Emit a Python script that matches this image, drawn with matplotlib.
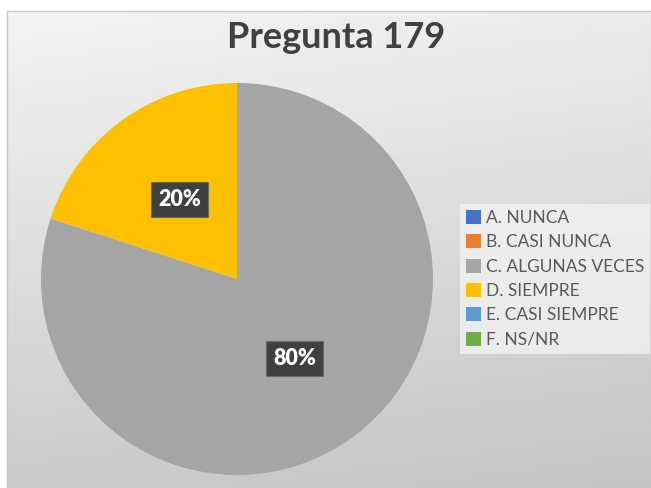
import numpy as np
import matplotlib
matplotlib.use("Agg")
import matplotlib.pyplot as plt
from matplotlib.patches import Rectangle, Patch

categories = ["A. NUNCA", "B. CASI NUNCA", "C. ALGUNAS VECES", "D. SIEMPRE",
              "E. CASI SIEMPRE", "F. NS/NR"]
values = [0, 0, 80, 20, 0, 0]
colors = ["#4472C4", "#ED7D31", "#A5A5A5", "#FFC000", "#5B9BD5", "#70AD47"]
title = "Pregunta 179"

W, H = 651, 488
fig = plt.figure(figsize=(W / 100, H / 100), dpi=100)
fig.patch.set_facecolor("white")

# background with gradient
bg = fig.add_axes([0, 0, 1, 1])
bg.set_xlim(0, W)
bg.set_ylim(H, 0)
bg.axis("off")
yy, xx = np.mgrid[0:1:256j, 0:1:256j]
t = np.clip(0.85 * yy + 0.15 * xx, 0, 1)
top = np.array([0.955, 0.955, 0.955])
bot = np.array([0.77, 0.77, 0.77])
img = top[None, None, :] * (1 - t[..., None]) + bot[None, None, :] * t[..., None]
bg.imshow(img, extent=[7, W, H, 11], aspect="auto", zorder=0)
bg.add_patch(Rectangle((7, 11), W - 7, H - 11, fill=False, edgecolor="#c8c8c8", lw=1, zorder=1))

bg.text(336, 48, title, ha="center", va="baseline", fontsize=26, fontweight="bold",
        family="Lato", color="#404040")

# pie axes
cx, cy, r = 237, 279, 196
ax = fig.add_axes([(cx - r) / W, (H - cy - r) / H, 2 * r / W, 2 * r / H])
wedges, texts = ax.pie(values, colors=colors, startangle=90, counterclock=False,
                       radius=1, wedgeprops=dict(linewidth=0))
ax.set_xlim(-1, 1)
ax.set_ylim(-1, 1)
ax.set_aspect("equal")
ax.axis("off")

total = sum(values)
ang = 90.0
for v in values:
    if v > 0:
        mid = np.deg2rad(ang - 360 * v / total / 2)
        ax.text(0.5 * np.cos(mid), 0.5 * np.sin(mid), f"{round(100 * v / total)}%",
                ha="center", va="center", fontsize=15.5, fontweight="heavy", color="white",
                family="Lato",
                bbox=dict(boxstyle="square,pad=0.33", facecolor="#404040", edgecolor="#6a6a6a", lw=0.8))
    ang -= 360 * v / total

handles = [Patch(facecolor=c, edgecolor="none") for c in colors]
leg = fig.legend(handles, categories, loc="upper left",
                 bbox_to_anchor=(460 / W, 1 - 204 / H), frameon=True,
                 prop=dict(family="Lato", size=12.5),
                 handlelength=0.85, handleheight=0.85, handletextpad=0.3,
                 labelspacing=0.48, borderpad=0.35, borderaxespad=0, fancybox=False)
leg.get_frame().set_facecolor("#f2f2f2")
leg.get_frame().set_edgecolor("none")
leg.get_frame().set_alpha(0.8)
for tx in leg.get_texts():
    tx.set_color("#595959")

fig.savefig("out.png", dpi=100)
